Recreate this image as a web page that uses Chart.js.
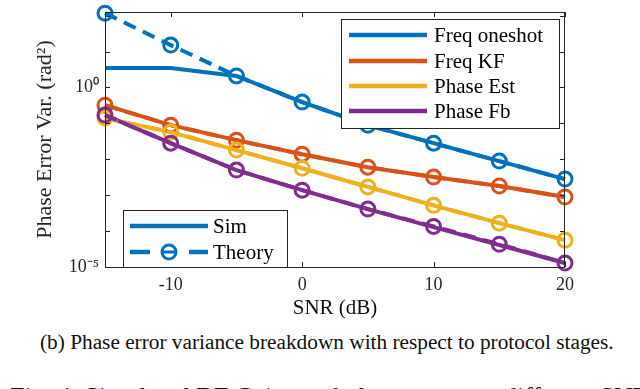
<!DOCTYPE html>
<html>
<head>
<meta charset="utf-8">
<script src="https://cdn.jsdelivr.net/npm/chart.js@4.4.1/dist/chart.umd.min.js"></script>
<style>
  body { margin: 0; width: 640px; height: 389px; overflow: hidden; background: #fff; position: relative; }
  #wrap { position: absolute; left: 0; top: 0; width: 640px; height: 322px; }
  .cap { position: absolute; white-space: nowrap; font-family: 'Liberation Serif', 'Times New Roman', serif; line-height: 1; color: #111; }
  #cap1 { left: 40px; top: 332px; font-size: 21.3px; }
  #cap2 { left: 10px; top: 384px; font-size: 26px; }
</style>
</head>
<body>
<div id="wrap"><canvas id="c" width="640" height="322"></canvas></div>
<div class="cap" id="cap1">(b) Phase error variance breakdown with respect to protocol stages.</div>
<div class="cap" id="cap2">Fig. 4: Simulated BF Gains and phase errors at different SNR</div>
<script>
// values
const snr = [-15, -10, -5, 0, 5, 10, 15, 20];

const freqOneshotSim = [3.47, 3.47, 2.09, 0.39, 0.089, 0.028, 0.0089, 0.0028];
const freqOneshotTheory = [117, 15.1, 2.09, 0.39, 0.089, 0.028, 0.0089, 0.0028];
const freqKfSim = [0.32, 0.089, 0.034, 0.0138, 0.006, 0.0032, 0.0018, 0.00089];
const freqKfTheory = [0.32, 0.089, 0.034, 0.0138, 0.006, 0.0032, 0.0018, 0.00089];
const phaseEstSim = [0.14, 0.057, 0.018, 0.0056, 0.0017, 0.00052, 0.000166, 0.000056];
const phaseEstTheory = [0.14, 0.057, 0.018, 0.0056, 0.0017, 0.00052, 0.000166, 0.000056];
const phaseFbSim = [0.17, 0.028, 0.005, 0.00138, 0.00041, 0.000129, 0.000041, 0.0000129];
const phaseFbTheory = [0.17, 0.028, 0.005, 0.00138, 0.00041, 0.000135, 0.000043, 0.0000129];

const seriesNames = ["Freq oneshot", "Freq KF", "Phase Est", "Phase Fb"];
const styleNames = ["Sim", "Theory"];
const colors = ["#0072BD", "#D95319", "#EDB120", "#7E2F8E"];

const xTickValues = [-10, 0, 10, 20];
const xTickLabels = ["-10", "0", "10", "20"];
const yTickValues = [1e-5, 1e-4, 1e-3, 1e-2, 1e-1, 1, 10, 100];
const yTickLabels = ["10⁻⁵", "", "", "", "", "10⁰", "", ""];
const yMin = 1e-5;
const yMax = 125.9;

const serif = "'Liberation Serif', 'Times New Roman', serif";
const axisColor = "#262626";

const simData = [freqOneshotSim, freqKfSim, phaseEstSim, phaseFbSim];
const theoryData = [freqOneshotTheory, freqKfTheory, phaseEstTheory, phaseFbTheory];

const datasets = [];
simData.forEach((vals, i) => {
  datasets.push({
    label: seriesNames[i] + " " + styleNames[0],
    data: snr.map((x, k) => ({ x: x, y: vals[k] })),
    borderColor: colors[i],
    borderWidth: 4,
    pointRadius: 0,
    tension: 0,
    clip: false,
  });
});
theoryData.forEach((vals, i) => {
  datasets.push({
    label: seriesNames[i] + " " + styleNames[1],
    data: snr.map((x, k) => ({ x: x, y: vals[k] })),
    borderColor: colors[i],
    borderWidth: 4,
    borderDash: [13, 8],
    pointRadius: 7,
    pointBorderWidth: 3,
    pointBorderColor: colors[i],
    pointBackgroundColor: "rgba(0,0,0,0)",
    tension: 0,
    clip: false,
  });
});
datasets.forEach((d, i) => { d.order = datasets.length - i; });

const frameAndLegends = {
  id: "frameAndLegends",
  afterDraw(chart) {
    const ctx = chart.ctx;
    const a = chart.chartArea;
    const xs = chart.scales.x;
    const ys = chart.scales.y;
    ctx.save();

    // axes box with inward ticks
    ctx.strokeStyle = axisColor;
    ctx.lineWidth = 1;
    ctx.strokeRect(a.left + 0.5, a.top + 0.5, a.right - a.left - 1, a.bottom - a.top);
    ctx.beginPath();
    xTickValues.forEach((v) => {
      const px = Math.round(xs.getPixelForValue(v)) + 0.5;
      ctx.moveTo(px, a.bottom); ctx.lineTo(px, a.bottom - 5);
      ctx.moveTo(px, a.top); ctx.lineTo(px, a.top + 5);
    });
    yTickValues.forEach((v) => {
      const py = Math.round(ys.getPixelForValue(v)) + 0.5;
      ctx.moveTo(a.left, py); ctx.lineTo(a.left + 5, py);
      ctx.moveTo(a.right, py); ctx.lineTo(a.right - 5, py);
    });
    ctx.stroke();

    // legend of series colours
    ctx.fillStyle = "#fff";
    ctx.fillRect(341, 19, 218, 109);
    ctx.strokeStyle = axisColor;
    ctx.lineWidth = 1;
    ctx.strokeRect(341.5, 19.5, 218, 109);
    ctx.font = "21px " + serif;
    ctx.textBaseline = "middle";
    ctx.textAlign = "left";
    const rowsY = [35, 61, 86, 111];
    seriesNames.forEach((name, i) => {
      ctx.strokeStyle = colors[i];
      ctx.lineWidth = 4.5;
      ctx.beginPath();
      ctx.moveTo(349, rowsY[i]); ctx.lineTo(427, rowsY[i]);
      ctx.stroke();
      ctx.fillStyle = "#000";
      ctx.fillText(name, 434, rowsY[i] + 1);
    });

    // legend of line styles
    ctx.fillStyle = "#fff";
    ctx.fillRect(123, 210, 164, 57);
    ctx.strokeStyle = axisColor;
    ctx.lineWidth = 1;
    ctx.strokeRect(123.5, 210.5, 164, 57);
    ctx.strokeStyle = colors[0];
    ctx.lineWidth = 4.5;
    ctx.beginPath();
    ctx.moveTo(130, 226); ctx.lineTo(208, 226);
    ctx.moveTo(130, 252); ctx.lineTo(150, 252);
    ctx.moveTo(189, 252); ctx.lineTo(208, 252);
    ctx.stroke();
    ctx.lineWidth = 3;
    ctx.beginPath();
    ctx.arc(169, 252, 7, 0, Math.PI * 2);
    ctx.stroke();
    ctx.beginPath();
    ctx.moveTo(163, 252); ctx.lineTo(175, 252);
    ctx.stroke();
    ctx.fillStyle = "#000";
    ctx.fillText(styleNames[0], 213, 227);
    ctx.fillText(styleNames[1], 213, 253);

    ctx.restore();
  },
};

new Chart(document.getElementById("c"), {
  type: "line",
  data: { datasets: datasets },
  options: {
    responsive: false,
    animation: false,
    layout: { padding: { top: 12, right: 75, left: 0, bottom: 0 } },
    plugins: { legend: { display: false }, tooltip: { enabled: false } },
    scales: {
      x: {
        type: "linear",
        min: -15,
        max: 20,
        grid: { display: false, drawTicks: false },
        border: { display: false },
        afterBuildTicks: (scale) => { scale.ticks = xTickValues.map((v) => ({ value: v })); },
        afterFit: (scale) => {
          scale.height = 55;
          scale.paddingLeft = 0;
          scale.paddingRight = 0;
        },
        ticks: {
          padding: 7,
          maxRotation: 0,
          color: "#262626",
          font: { family: serif, size: 18 },
          callback: (v) => xTickLabels[xTickValues.indexOf(v)],
        },
        title: {
          display: true,
          text: "SNR (dB)",
          color: "#111",
          font: { family: serif, size: 21 },
          padding: { top: 0, bottom: 1 },
        },
      },
      y: {
        type: "logarithmic",
        min: yMin,
        max: yMax,
        grid: { display: false, drawTicks: false },
        border: { display: false },
        afterBuildTicks: (scale) => { scale.ticks = yTickValues.map((v) => ({ value: v })); },
        afterFit: (scale) => {
          scale.width = 105;
          scale.paddingTop = 0;
          scale.paddingBottom = 0;
        },
        ticks: {
          padding: 6,
          color: "#262626",
          font: { family: serif, size: 18 },
          callback: (v) => {
            const k = yTickValues.findIndex((t) => Math.abs(Math.log10(t) - Math.log10(v)) < 1e-6);
            return k >= 0 ? yTickLabels[k] : "";
          },
        },
        title: {
          display: true,
          text: "Phase Error Var. (rad²)",
          color: "#262626",
          font: { family: serif, size: 22 },
          padding: { top: 32, bottom: 0 },
        },
      },
    },
  },
  plugins: [frameAndLegends],
});
</script>
</body>
</html>
